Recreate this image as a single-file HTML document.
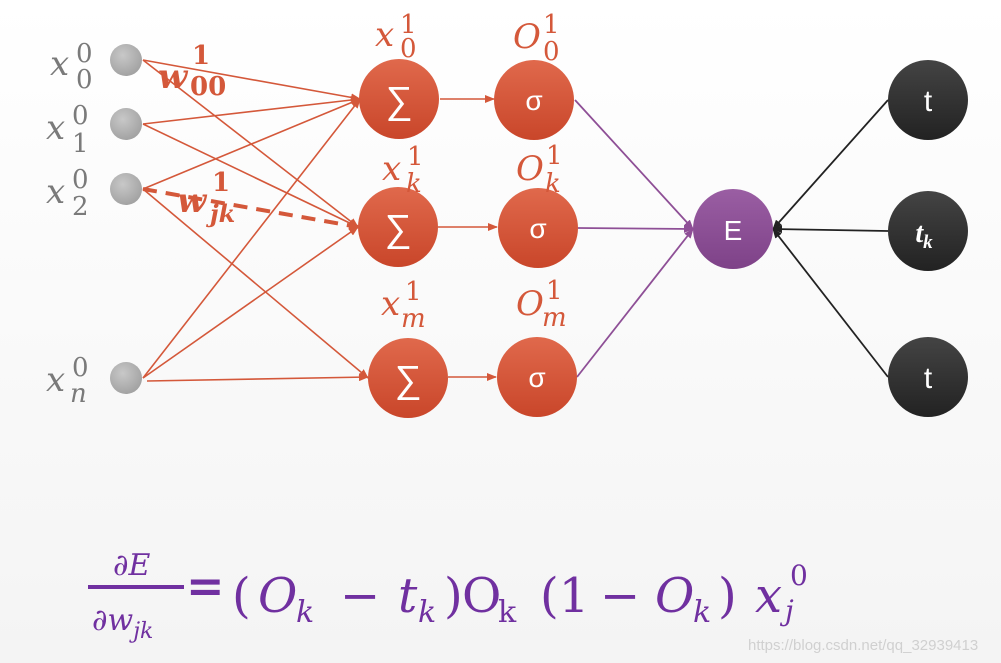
<!DOCTYPE html>
<html><head><meta charset="utf-8"><style>
body{margin:0;background:#fff}
svg{display:block}
.g{font-family:"DejaVu Serif","Liberation Serif",serif;font-style:italic;fill:#7a7a7a}
.r{font-family:"DejaVu Serif","Liberation Serif",serif;font-style:italic;fill:#d4583a}
.p{font-family:"DejaVu Serif","Liberation Serif",serif;fill:#7030a0}
.p .i{font-style:italic}
</style></head><body>
<svg width="1001" height="663" viewBox="0 0 1001 663" xmlns="http://www.w3.org/2000/svg">
<defs>
<linearGradient id="bg" x1="0" y1="0" x2="0" y2="1"><stop offset="0" stop-color="#ffffff"/><stop offset="1" stop-color="#f4f4f4"/></linearGradient>
<radialGradient id="gr" cx="0.4" cy="0.35" r="0.7"><stop offset="0" stop-color="#c8c8c8"/><stop offset="1" stop-color="#a0a0a0"/></radialGradient>
<linearGradient id="rd" x1="0" y1="0" x2="0" y2="1"><stop offset="0" stop-color="#e0694c"/><stop offset="1" stop-color="#c9462a"/></linearGradient>
<linearGradient id="pu" x1="0" y1="0" x2="0" y2="1"><stop offset="0" stop-color="#9a5ea3"/><stop offset="1" stop-color="#7e4288"/></linearGradient>
<linearGradient id="dk" x1="0" y1="0" x2="0" y2="1"><stop offset="0" stop-color="#444"/><stop offset="1" stop-color="#222"/></linearGradient>
<marker id="ar" markerWidth="10" markerHeight="8" refX="9" refY="4" orient="auto" markerUnits="userSpaceOnUse"><path d="M0,0L10,4L0,8z" fill="#d4583a"/></marker>
<marker id="ap" markerWidth="10" markerHeight="8" refX="9" refY="4" orient="auto" markerUnits="userSpaceOnUse"><path d="M0,0L10,4L0,8z" fill="#8e4f96"/></marker>
<marker id="ak" markerWidth="10" markerHeight="8" refX="9" refY="4" orient="auto" markerUnits="userSpaceOnUse"><path d="M0,0L10,4L0,8z" fill="#222"/></marker>
</defs>
<rect width="1001" height="663" fill="url(#bg)"/>
<g stroke="#d4583a" stroke-width="1.6" fill="none" marker-end="url(#ar)">
<line x1="143" y1="60" x2="360" y2="99"/>
<line x1="143" y1="60" x2="358" y2="227"/>
<line x1="143" y1="124" x2="360" y2="99"/>
<line x1="143" y1="124" x2="358" y2="227"/>
<line x1="143" y1="189" x2="360" y2="99"/>
<line x1="143" y1="189" x2="368" y2="378"/>
<line x1="143" y1="378" x2="360" y2="99"/>
<line x1="143" y1="378" x2="358" y2="227"/>
<line x1="147" y1="381" x2="368" y2="377"/>
<line x1="440" y1="99" x2="494" y2="99"/>
<line x1="438" y1="227" x2="497" y2="227"/>
<line x1="448" y1="377" x2="496" y2="377"/>
</g>
<line x1="143" y1="189" x2="358" y2="227" stroke="#d4583a" stroke-width="4" stroke-dasharray="14,9" marker-end="url(#ar)"/>
<g stroke="#8e4f96" stroke-width="1.8" marker-end="url(#ap)">
<line x1="575" y1="100" x2="693" y2="229"/>
<line x1="578" y1="228" x2="693" y2="229"/>
<line x1="577" y1="377" x2="693" y2="229"/>
</g>
<g stroke="#222" stroke-width="1.8" marker-end="url(#ak)">
<line x1="888" y1="100" x2="773" y2="229"/>
<line x1="888" y1="231" x2="773" y2="229"/>
<line x1="888" y1="377" x2="773" y2="229"/>
</g>
<g fill="url(#gr)"><circle cx="126" cy="60" r="16"/><circle cx="126" cy="124" r="16"/><circle cx="126" cy="189" r="16"/><circle cx="126" cy="378" r="16"/></g>
<g fill="url(#rd)"><circle cx="399" cy="99" r="40"/><circle cx="398" cy="227" r="40"/><circle cx="408" cy="378" r="40"/>
<circle cx="534" cy="100" r="40"/><circle cx="538" cy="228" r="40"/><circle cx="537" cy="377" r="40"/></g>
<circle cx="733" cy="229" r="40" fill="url(#pu)"/>
<g fill="url(#dk)"><circle cx="928" cy="100" r="40"/><circle cx="928" cy="231" r="40"/><circle cx="928" cy="377" r="40"/></g>
<g font-family="Liberation Sans,sans-serif" fill="#fff" text-anchor="middle">
<text x="399" y="113" font-size="38">∑</text><text x="398" y="241" font-size="38">∑</text><text x="408" y="392" font-size="38">∑</text>
<text x="534" y="110" font-size="28">σ</text><text x="538" y="238" font-size="28">σ</text><text x="537" y="387" font-size="28">σ</text>
<text x="733" y="240" font-size="28">E</text>
<text x="928" y="111" font-size="30">t</text><text x="928" y="388" font-size="30">t</text>
<text x="924" y="242" font-size="28" font-weight="bold" font-style="italic" font-family="Liberation Serif,serif">t<tspan font-size="19" dy="6">k</tspan></text>
</g>
<g class="g" font-size="34">
<text x="50" y="75">x</text><text x="76" y="62" font-size="26" font-style="normal">0</text><text x="76" y="88" font-size="26" font-style="normal">0</text>
<text x="46" y="139">x</text><text x="72" y="124" font-size="26" font-style="normal">0</text><text x="72" y="152" font-size="26" font-style="normal">1</text>
<text x="46" y="203">x</text><text x="72" y="188" font-size="26" font-style="normal">0</text><text x="72" y="215" font-size="26" font-style="normal">2</text>
<text x="46" y="391">x</text><text x="72" y="376" font-size="26" font-style="normal">0</text><text x="70" y="402" font-size="26">n</text>
</g>
<g class="r" font-size="34">
<text x="375" y="46">x</text><text x="400" y="33" font-size="26" font-style="normal">1</text><text x="400" y="57" font-size="26" font-style="normal">0</text>
<text x="382" y="180">x</text><text x="407" y="165" font-size="26" font-style="normal">1</text><text x="406" y="192" font-size="26">k</text>
<text x="381" y="315">x</text><text x="405" y="300" font-size="26" font-style="normal">1</text><text x="401" y="327" font-size="26">m</text>
<text x="513" y="48">O</text><text x="543" y="33" font-size="26" font-style="normal">1</text><text x="543" y="60" font-size="26" font-style="normal">0</text>
<text x="516" y="180">O</text><text x="546" y="164" font-size="26" font-style="normal">1</text><text x="545" y="192" font-size="26">k</text>
<text x="516" y="315">O</text><text x="546" y="299" font-size="26" font-style="normal">1</text><text x="542" y="326" font-size="26">m</text>
</g>
<g class="r" font-weight="bold" font-size="34">
<text x="158" y="88">w</text><text x="192" y="64" font-size="26" font-style="normal">1</text><text x="190" y="95" font-size="26" font-style="normal">00</text>
<text x="177" y="212">w</text><text x="212" y="191" font-size="26" font-style="normal">1</text><text x="210" y="222" font-size="24">jk</text>
</g>
<g class="p" font-size="48">
<text x="113" y="575" font-size="30" class="i">∂E</text>
<rect x="88" y="585" width="96" height="4" fill="#7030a0"/>
<text x="92" y="630" font-size="30" class="i">∂w<tspan font-size="22" dy="8">jk</tspan></text>
<text x="186" y="602" font-size="46" font-weight="bold">=</text>
<text x="232" y="612">(</text>
<text x="258" y="612" class="i">O</text><text x="296" y="622" font-size="30" class="i">k</text>
<text x="340" y="612">−</text>
<text x="398" y="612" class="i">t</text><text x="418" y="622" font-size="30" class="i">k</text>
<text x="444" y="612">)</text>
<text x="462" y="612">O</text><text x="498" y="622" font-size="30">k</text>
<text x="540" y="612">(1</text>
<text x="600" y="612">−</text>
<text x="655" y="612" class="i">O</text><text x="693" y="622" font-size="30" class="i">k</text>
<text x="718" y="612">)</text>
<text x="755" y="612" class="i">x</text>
<text x="790" y="585" font-size="28">0</text>
<text x="785" y="620" font-size="28" class="i">j</text>
</g>
<text x="748" y="650" font-family="Liberation Sans,sans-serif" font-size="15" fill="#d0d0d0">https://blog.csdn.net/qq_32939413</text>
</svg>
</body></html>
